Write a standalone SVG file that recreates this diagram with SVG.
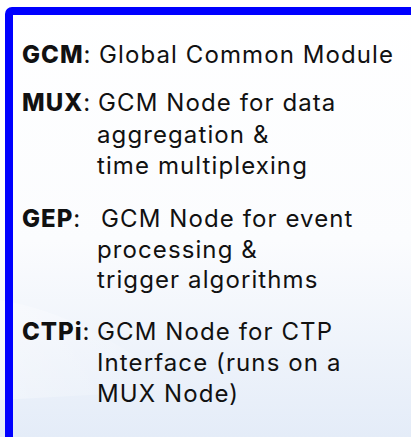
<svg xmlns="http://www.w3.org/2000/svg" width="411" height="437" viewBox="0 0 411 437">
  <defs>
    <linearGradient id="bg" x1="0" y1="0" x2="0" y2="1">
      <stop offset="0" stop-color="#ffffff"/>
      <stop offset="0.55" stop-color="#fbfcfe"/>
      <stop offset="1" stop-color="#e4ecf8"/>
    </linearGradient>
    <linearGradient id="streak" x1="0" y1="0" x2="1" y2="0">
      <stop offset="0" stop-color="#ffffff" stop-opacity="0.7"/>
      <stop offset="1" stop-color="#ffffff" stop-opacity="0"/>
    </linearGradient>
    <style>
      .t { font-family: "Inter", "Liberation Sans", sans-serif; font-size: 24px; letter-spacing: 1.1px; fill: #111111; }
      .b { font-weight: 800; letter-spacing: 1px; }
    </style>
  </defs>
  <rect x="0" y="0" width="411" height="437" fill="url(#bg)"/>
  <path d="M0,300 C60,310 120,340 180,390 L0,400 Z" fill="url(#streak)" opacity="0.5"/>
  <rect id="frame" x="9" y="11" width="406" height="430" rx="3" fill="none" stroke="#0000ff" stroke-width="8"/>
  <g id="gcm">
    <text class="t" x="22" y="63"><tspan class="b">GCM</tspan>:</text>
    <text class="t" x="99" y="63">Global Common Module</text>
  </g>
  <g id="mux">
    <text class="t" x="22" y="111"><tspan class="b">MUX</tspan>:</text>
    <text class="t" x="98" y="111">GCM Node for data</text>
    <text class="t" x="97" y="143">aggregation &amp;</text>
    <text class="t" x="97" y="174">time multiplexing</text>
  </g>
  <g id="gep">
    <text class="t" x="22" y="227"><tspan class="b">GEP</tspan>:</text>
    <text class="t" x="101" y="227">GCM Node for event</text>
    <text class="t" x="97" y="258">processing &amp;</text>
    <text class="t" x="97" y="288">trigger algorithms</text>
  </g>
  <g id="ctpi">
    <text class="t" x="22" y="340"><tspan class="b">CTPi</tspan>:</text>
    <text class="t" x="97" y="340">GCM Node for CTP</text>
    <text class="t" x="97" y="371">Interface (runs on a</text>
    <text class="t" x="97" y="402">MUX Node)</text>
  </g>
</svg>
